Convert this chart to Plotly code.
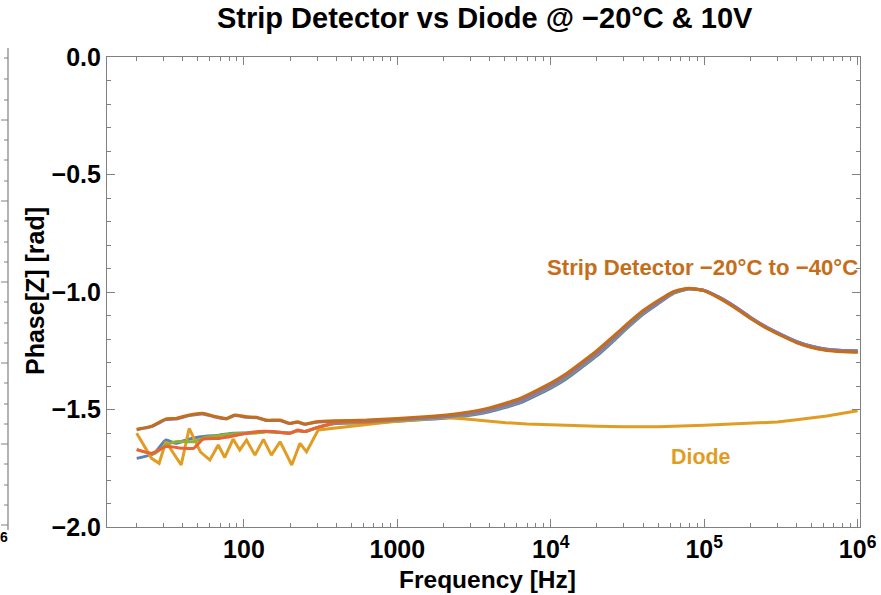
import plotly.graph_objects as go

# ---------------- data ----------------
# high-frequency grid shared by the strip-detector curves (Hz)
freq_high = [400, 630, 1000, 1585, 2510, 3980, 6310, 10000, 12600, 15850, 19950, 25100,
             31600, 39800, 50100, 63100, 79400, 100000, 125900, 158500, 199500, 251200,
             316200, 398100, 501200, 631000, 794300, 1000000]

# strip detector, curve 1 (blue)
blue_f_low = [20, 26, 31, 36, 43, 52, 69, 85, 104, 121, 140, 172, 199, 224, 249, 297]
blue_low = [-1.708, -1.687, -1.630, -1.644, -1.627, -1.616, -1.609, -1.601, -1.600, -1.598,
            -1.594, -1.597, -1.600, -1.590, -1.594, -1.578]
blue_high = [-1.560, -1.557, -1.550, -1.542, -1.532, -1.510, -1.472, -1.409, -1.370, -1.322,
             -1.272, -1.214, -1.153, -1.096, -1.050, -1.006, -0.987, -0.993, -1.023, -1.062,
             -1.107, -1.147, -1.180, -1.210, -1.231, -1.244, -1.249, -1.250]

# strip detector, curve 3 (green)
green_f_low = [20, 26, 31, 36, 47, 57, 69, 85, 104, 121, 140, 172, 199, 224, 249, 297]
green_low = [-1.672, -1.687, -1.651, -1.637, -1.637, -1.618, -1.611, -1.603, -1.601, -1.600,
             -1.595, -1.598, -1.601, -1.590, -1.594, -1.578]
green_high = [-1.558, -1.555, -1.547, -1.538, -1.527, -1.505, -1.466, -1.403, -1.363, -1.315,
              -1.265, -1.208, -1.148, -1.091, -1.046, -1.004, -0.986, -0.994, -1.025, -1.064,
              -1.110, -1.150, -1.183, -1.213, -1.234, -1.247, -1.252, -1.254]

# strip detector, curve 4 (red)
red_f_low = [20, 25, 31, 40, 47, 54, 69, 85, 104, 124, 155, 199, 224, 249, 297]
red_low = [-1.670, -1.687, -1.658, -1.665, -1.665, -1.627, -1.623, -1.613, -1.601, -1.594,
           -1.594, -1.601, -1.587, -1.594, -1.577]
red_high = [-1.556, -1.553, -1.544, -1.534, -1.522, -1.498, -1.459, -1.395, -1.355, -1.307,
            -1.257, -1.200, -1.141, -1.085, -1.041, -1.000, -0.985, -0.994, -1.025, -1.064,
            -1.110, -1.150, -1.183, -1.213, -1.234, -1.247, -1.252, -1.254]

# strip detector, curve 5 (purple)
purple_f_low = [20, 25, 31, 36, 44, 54, 63, 77, 87, 104, 121, 140, 172, 199, 224, 249, 297]
purple_low = [-1.586, -1.573, -1.543, -1.541, -1.526, -1.519, -1.530, -1.540, -1.526, -1.533,
              -1.535, -1.547, -1.547, -1.560, -1.554, -1.563, -1.554]
purple_high = [-1.550, -1.548, -1.542, -1.536, -1.525, -1.503, -1.464, -1.400, -1.360, -1.312,
               -1.262, -1.205, -1.145, -1.089, -1.045, -1.002, -0.986, -0.993, -1.023, -1.062,
               -1.107, -1.147, -1.180, -1.210, -1.231, -1.244, -1.249, -1.251]

# strip detector, curve 6 (brown)
brown_f_low = [20, 25, 31, 36, 44, 54, 63, 77, 87, 104, 121, 140, 172, 199, 224, 249, 297]
brown_low = [-1.584, -1.571, -1.540, -1.538, -1.523, -1.516, -1.528, -1.538, -1.523, -1.531,
             -1.533, -1.545, -1.545, -1.559, -1.552, -1.562, -1.552]
brown_high = [-1.548, -1.545, -1.538, -1.530, -1.517, -1.493, -1.453, -1.388, -1.348, -1.300,
              -1.250, -1.193, -1.135, -1.080, -1.036, -0.998, -0.984, -0.995, -1.027, -1.067,
              -1.112, -1.152, -1.185, -1.215, -1.236, -1.249, -1.254, -1.256]

# diode
diode_f = [20, 25, 28, 31, 39, 44, 52, 60, 68, 75, 85, 94, 104, 118, 134, 151, 172, 205, 232,
           256, 305, 400, 570, 800, 1000, 1400, 2000, 2800, 4000, 5100, 7000, 10000, 12600,
           20000, 30000, 50000, 100000, 200000, 300000, 400000, 630000, 1000000]
diode_phase = [-1.601, -1.708, -1.729, -1.637, -1.736, -1.580, -1.680, -1.715, -1.651, -1.704,
               -1.626, -1.672, -1.630, -1.694, -1.627, -1.694, -1.637, -1.736, -1.644, -1.680,
               -1.587, -1.578, -1.565, -1.556, -1.550, -1.541, -1.534, -1.540, -1.550, -1.556,
               -1.562, -1.566, -1.569, -1.571, -1.573, -1.573, -1.567, -1.560, -1.553, -1.544,
               -1.528, -1.505]

x_tick_vals = [100, 1000, 10000, 100000, 1000000]
x_tick_text = ["100", "1000", "10<sup>4</sup>", "10<sup>5</sup>", "10<sup>6</sup>"]
x_minor_vals = [m * 10 ** e for e in range(1, 6) for m in range(2, 10)]
y_tick_vals = [0.0, -0.5, -1.0, -1.5, -2.0]

C_BLUE, C_YEL, C_GRN, C_RED, C_PUR, C_BRN = "#5E81B5", "#E19C24", "#8FB032", "#EB6235", "#8778B3", "#C56E1A"

# ---------------- figure ----------------
W, H = 881, 595
L, R, T, B = 107, 860, 57, 527
FONT = "Liberation Sans"
GRAY = "#808080"

fig = go.Figure()

def strip(f_low, v_low, v_high, color, name):
    fig.add_trace(go.Scatter(x=f_low + freq_high, y=v_low + v_high, mode="lines",
                             line=dict(color=color, width=3, shape="spline", smoothing=0.5),
                             name=name, showlegend=False, hoverinfo="skip"))

strip(blue_f_low, blue_low, blue_high, C_BLUE, "Strip 1")
fig.add_trace(go.Scatter(x=diode_f, y=diode_phase, mode="lines",
                         line=dict(color=C_YEL, width=3), name="Diode",
                         showlegend=False, hoverinfo="skip"))
strip(green_f_low, green_low, green_high, C_GRN, "Strip 2")
strip(red_f_low, red_low, red_high, C_RED, "Strip 3")
strip(purple_f_low, purple_low, purple_high, C_PUR, "Strip 4")
strip(brown_f_low, brown_low, brown_high, C_BRN, "Strip 5")

def px(x):
    return (x - L) / (R - L)

def py(y):
    return (B - y) / (B - T)

# partial neighbouring panel frame at the left edge
shapes = [dict(type="line", xref="paper", yref="paper", x0=px(8), x1=px(8), y0=py(48), y1=py(530),
               line=dict(color=GRAY, width=1.2))]
y_major_left = [525, 444, 363, 282, 201, 120]
for yy in y_major_left:
    shapes.append(dict(type="line", xref="paper", yref="paper", x0=px(1), x1=px(8), y0=py(yy), y1=py(yy),
                       line=dict(color=GRAY, width=1)))
for yy in [505, 485, 464, 424, 404, 383, 343, 323, 302, 262, 242, 221, 181, 160, 140, 100, 79, 58]:
    shapes.append(dict(type="line", xref="paper", yref="paper", x0=px(4), x1=px(8), y0=py(yy), y1=py(yy),
                       line=dict(color=GRAY, width=1)))

annotations = [
    dict(text="<b>Strip Detector vs Diode @ −20°C & 10V</b>", xref="paper", yref="paper",
         x=px(485), y=py(18), xanchor="center", yanchor="middle", showarrow=False,
         font=dict(family=FONT, size=29, color="black")),
    dict(text="<b>Frequency [Hz]</b>", xref="paper", yref="paper", x=px(487), y=py(579),
         xanchor="center", yanchor="middle", showarrow=False,
         font=dict(family=FONT, size=24.5, color="black")),
    dict(text="<b>Phase[Z] [rad]</b>", xref="paper", yref="paper", x=px(35), y=py(291),
         xanchor="center", yanchor="middle", showarrow=False, textangle=-90,
         font=dict(family=FONT, size=25, color="black")),
    dict(text="<b>Strip Detector −20°C to −40°C</b>", xref="paper", yref="paper", x=px(702), y=py(267),
         xanchor="center", yanchor="middle", showarrow=False,
         font=dict(family=FONT, size=22.2, color=C_BRN)),
    dict(text="<b>Diode</b>", xref="paper", yref="paper", x=px(701), y=py(457),
         xanchor="center", yanchor="middle", showarrow=False,
         font=dict(family=FONT, size=21.4, color=C_YEL)),
    dict(text="<b>6</b>", xref="paper", yref="paper", x=px(4), y=py(537),
         xanchor="center", yanchor="middle", showarrow=False,
         font=dict(family=FONT, size=14, color="black")),
]

fig.update_layout(
    width=W, height=H,
    margin=dict(l=L, r=W - R, t=T, b=H - B, pad=0, autoexpand=False),
    paper_bgcolor="white", plot_bgcolor="white",
    showlegend=False,
    shapes=shapes,
    annotations=annotations,
    xaxis=dict(type="log", range=[1.1075, 6.0155], tickmode="array", tickvals=x_tick_vals,
               ticktext=x_tick_text, ticks="inside", ticklen=8, tickwidth=1, tickcolor=GRAY,
               showline=True, linecolor=GRAY, linewidth=1.2, mirror="allticks",
               showgrid=False, zeroline=False, automargin=False,
               tickfont=dict(family=FONT, size=25, color="black", weight="bold"),
               minor=dict(tickmode="array", tickvals=x_minor_vals, ticks="inside", ticklen=4,
                          tickcolor=GRAY, tickwidth=1, showgrid=False)),
    yaxis=dict(range=[-2.0, 0.0], tickmode="array", tickvals=y_tick_vals, tickformat=".1f",
               ticks="inside", ticklen=8, tickwidth=1, tickcolor=GRAY,
               showline=True, linecolor=GRAY, linewidth=1.2, mirror="allticks",
               showgrid=False, zeroline=False, automargin=False,
               tickfont=dict(family=FONT, size=25, color="black", weight="bold"),
               minor=dict(dtick=0.1, ticks="inside", ticklen=4, tickcolor=GRAY, tickwidth=1,
                          showgrid=False)),
)

fig.write_html("out.html")
